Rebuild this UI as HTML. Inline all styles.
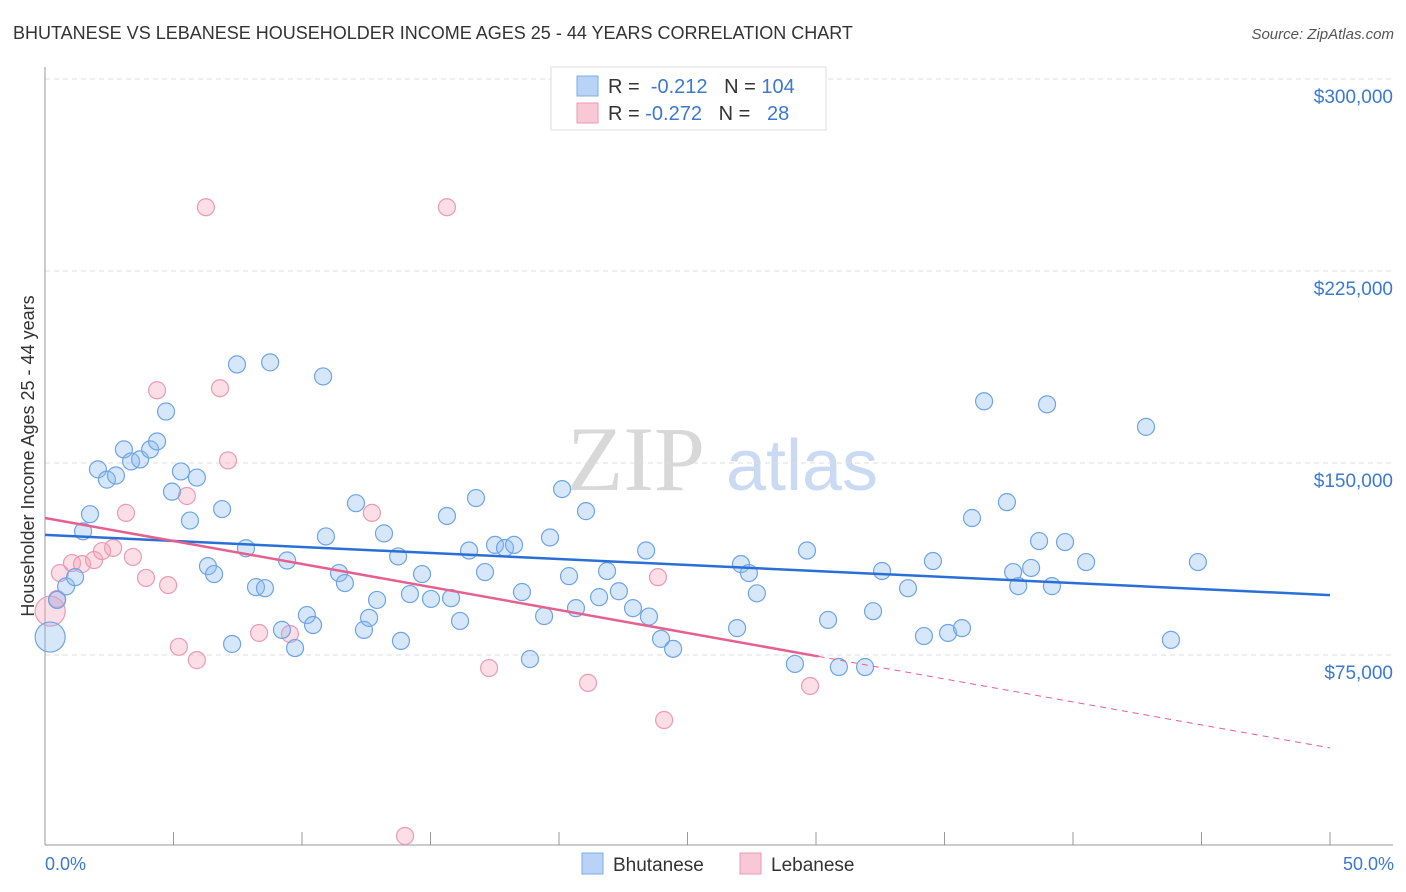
<!DOCTYPE html>
<html><head><meta charset="utf-8"><style>
body{margin:0;background:#fff;font-family:"Liberation Sans",sans-serif}
svg{display:block}
</style></head><body>
<svg id="chart" width="1406" height="892" viewBox="0 0 1406 892" xmlns="http://www.w3.org/2000/svg">
<text x="13" y="39" font-size="18" fill="#333">BHUTANESE VS LEBANESE HOUSEHOLDER INCOME AGES 25 - 44 YEARS CORRELATION CHART</text>
<text x="1394" y="39" font-size="15" fill="#555" font-style="italic" text-anchor="end">Source: ZipAtlas.com</text>
<g>
<text x="636" y="490" font-size="92" fill="#d8d8d8" font-family="Liberation Serif,serif" text-anchor="middle">ZIP</text>
<text x="802" y="490" font-size="72" fill="#c9daf2" text-anchor="middle">atlas</text>
</g>
<g id="grid"></g>
<g id="axes"></g>
<g id="marks"></g>
<g id="trends"></g>
<text transform="translate(34,456) rotate(-90)" font-size="18" fill="#333" text-anchor="middle">Householder Income Ages 25 - 44 years</text>
<text x="45" y="870" font-size="18" fill="#3b78d0">0.0%</text>
<text x="1394" y="870" font-size="18" fill="#3b78d0" text-anchor="end">50.0%</text>
<g>
<rect x="551" y="67" width="275" height="63" fill="#fff" stroke="#ddd"/>
<rect x="577" y="76" width="21" height="20" fill="#b8d3f5" stroke="#7aaee8"/>
<rect x="577" y="103" width="21" height="20" fill="#f9c8d6" stroke="#ec9ab4"/>
<text x="608" y="93" font-size="20" fill="#333">R = <tspan fill="#3b78d0">&#160;-0.212</tspan>&#160;&#160;&#160;N = <tspan fill="#3b78d0">104</tspan></text>
<text x="608" y="120" font-size="20" fill="#333">R = <tspan fill="#3b78d0">-0.272</tspan>&#160;&#160;&#160;N = <tspan fill="#3b78d0">&#160;&#160;28</tspan></text>
</g>
<g>
<rect x="582" y="853" width="21" height="21" fill="#b8d3f5" stroke="#7aaee8"/>
<text x="613" y="871" font-size="19" fill="#333">Bhutanese</text>
<rect x="740" y="853" width="21" height="21" fill="#f9c8d6" stroke="#ec9ab4"/>
<text x="771" y="871" font-size="19" fill="#333">Lebanese</text>
</g>
</svg>
<script>
const yTicks=[75000,150000,225000,300000];
const yTickLabels=["$75,000","$150,000","$225,000","$300,000"];
const xTicks=[0,5,10,15,20,25,30,35,40,45,50];
const bhutaneseX=[0.2,0.47,0.82,1.17,1.48,1.75,2.06,2.41,2.76,3.07,3.35,3.70,4.09,4.36,4.71,4.94,5.29,5.64,5.91,6.34,6.58,6.89,7.28,7.47,7.82,8.21,8.56,8.76,9.22,9.42,9.73,10.19,10.43,10.82,10.93,11.44,11.67,12.10,12.41,12.61,12.92,13.19,13.74,13.85,14.20,14.67,15.02,15.64,15.80,16.15,16.50,16.77,17.12,17.51,17.90,18.25,18.56,18.87,19.42,19.65,20.12,20.39,20.66,21.05,21.56,21.87,22.33,22.88,23.39,23.50,23.97,24.44,26.93,27.08,27.39,27.70,29.18,29.65,30.47,30.89,31.91,32.22,32.57,33.58,34.20,34.55,35.14,35.68,36.07,36.54,37.43,37.67,37.87,38.37,38.68,38.99,39.18,39.69,40.51,42.84,43.81,44.86];
const bhutaneseY=[82000,96500,101800,105400,123300,130000,147500,143500,145100,155300,150600,151400,155300,158400,170100,138800,146700,127500,144300,109700,106600,132000,79300,188500,116700,101500,101100,189300,84800,111900,77700,90600,86700,183800,121300,107000,103100,134300,84800,89500,96500,122500,113500,80500,98800,106600,96900,129300,97200,88300,115800,136300,107400,118000,116800,118000,99600,73400,90200,120900,139800,105800,93300,131200,97600,107800,99900,93300,115800,90000,81300,77400,85500,110500,107000,99100,71500,115800,88700,70300,70300,92100,107800,101100,82400,111700,83600,85500,128500,174100,134700,107400,101900,109000,119500,172900,101900,119100,111300,164100,80900,111300];
const lebaneseX=[0.2,0.47,0.58,1.05,1.44,1.91,2.22,2.65,3.15,3.42,3.93,4.36,4.79,5.21,5.52,5.91,6.26,6.81,7.12,8.33,9.53,12.72,14.01,15.64,17.28,21.13,23.85,24.09,29.77];
const lebaneseY=[92100,96900,107000,110900,110500,112100,115600,116800,130500,113300,105100,178400,102300,78200,137100,73000,249900,179200,151000,83600,83200,130500,4300,249900,69900,64100,105400,49600,62900];
const trendBlue=[121900,98400];
const trendPink=[128500,38700];
const pinkSolidEnd=30.1;
const ns="http://www.w3.org/2000/svg";
const X=p=>45+p*25.7, Y=v=>847-v/390.6;
function mk(tag,attrs,parent){const e=document.createElementNS(ns,tag);for(const k in attrs)e.setAttribute(k,attrs[k]);parent.appendChild(e);return e;}
const grid=document.getElementById('grid'),axes=document.getElementById('axes'),marks=document.getElementById('marks'),trends=document.getElementById('trends');
yTicks.forEach((v,i)=>{
 const l=mk('line',{x1:45,x2:1393,y1:Y(v),y2:Y(v),stroke:'#ddd','stroke-dasharray':'5,4'},grid);
 
 
 const t=mk('text',{x:1393,y:Y(v)+24,'font-size':19,fill:'#3b78d0','text-anchor':'end'},grid);
 t.textContent=yTickLabels[i];
 
 
});
const ya=mk('line',{x1:45,x2:45,y1:67,y2:845,stroke:'#999'},axes);


const xa=mk('line',{x1:45,x2:1393,y1:845,y2:845,stroke:'#999'},axes);


xTicks.forEach(p=>{
 const t=mk('line',{x1:X(p),x2:X(p),y1:832,y2:845,stroke:'#999'},axes);
 
 
});
function pts(xs,ys,fill,stroke,name){
 xs.forEach((p,i)=>{
  const r=i===0?15:8.5;
  const c=mk('circle',{cx:X(p),cy:Y(ys[i]),r:r,fill:fill,stroke:stroke,'stroke-width':1.2},marks);
  
  
 });
}
pts(lebaneseX,lebaneseY,'rgba(245,160,185,0.35)','#ec9ab4','lebanese-point');
pts(bhutaneseX,bhutaneseY,'rgba(140,185,240,0.35)','#6ea4e6','bhutanese-point');
const tb=mk('line',{x1:X(0),y1:Y(trendBlue[0]),x2:X(50),y2:Y(trendBlue[1]),stroke:'#2a6fd6','stroke-width':2.5},trends);


const pv=p=>trendPink[0]+(trendPink[1]-trendPink[0])*p/50;
const tp=mk('line',{x1:X(0),y1:Y(pv(0)),x2:X(pinkSolidEnd),y2:Y(pv(pinkSolidEnd)),stroke:'#e5608f','stroke-width':2.5},trends);


const td=mk('line',{x1:X(pinkSolidEnd),y1:Y(pv(pinkSolidEnd)),x2:X(50),y2:Y(pv(50)),stroke:'#e5608f','stroke-width':1,'stroke-dasharray':'6,5'},trends);


</script>
</body></html>
